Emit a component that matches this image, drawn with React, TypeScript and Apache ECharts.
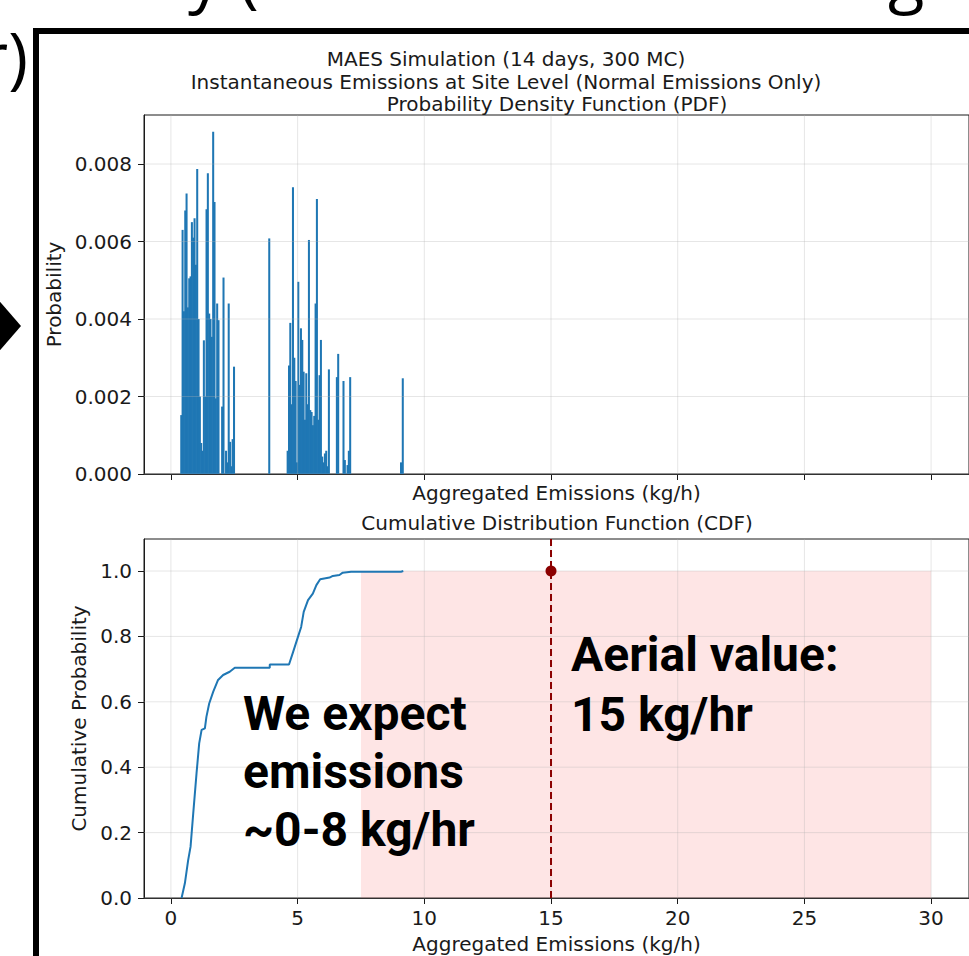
import React, { useEffect, useRef } from 'react';
import * as echarts from 'echarts';

// ---------- data ----------
const X_TICKS = [0, 5, 10, 15, 20, 25, 30];
const PDF_Y_TICKS = [0, 0.002, 0.004, 0.006, 0.008];
const CDF_Y_TICKS = [0, 0.2, 0.4, 0.6, 0.8, 1.0];
const X_MIN = -1.063;
const X_MAX = 31.496;
const PDF_Y_MAX = 0.009265;
const CDF_Y_MAX = 1.098;
const BIN_WIDTH = 0.0525;

const PDF_X = [
  0.407, 0.46, 0.512, 0.565, 0.617, 0.67, 0.722, 0.775, 0.827, 0.88, 0.932, 0.985, 1.037, 1.09,
  1.142, 1.195, 1.247, 1.3, 1.352, 1.405, 1.457, 1.51, 1.562, 1.615, 1.667, 1.72, 1.772, 1.825,
  1.877, 2.02, 2.075, 2.175, 2.225, 2.28, 2.335, 2.385, 2.435, 2.49,
  3.88,
  4.606, 4.659, 4.711, 4.764, 4.816, 4.869, 4.921, 4.974, 5.026, 5.079, 5.131, 5.184, 5.236,
  5.289, 5.341, 5.394, 5.446, 5.499, 5.551, 5.604, 5.656, 5.709, 5.761, 5.814, 5.866, 5.919,
  5.971, 6.024, 6.076, 6.129, 6.181, 6.234, 6.549, 6.601, 6.81, 6.864, 6.969, 7.021, 7.074,
  9.08, 9.15,
];
const PDF_P = [
  0.00152, 0.0063, 0.0042, 0.0068, 0.00724, 0.0043, 0.00505, 0.0051, 0.0065, 0.0061, 0.0066,
  0.0054, 0.00787, 0.004, 0.002, 0.0008, 0.0006, 0.00345, 0.002, 0.00683, 0.00776, 0.00414,
  0.004, 0.00354, 0.00883, 0.00702, 0.00195, 0.0044, 0.00397, 0.00174, 0.00507, 0.0006, 0.0003,
  0.0044, 0.00083, 0.0002, 0.0009, 0.00277,
  0.00608,
  0.0006, 0.0028, 0.0039, 0.0018, 0.0074, 0.003, 0.0024, 0.0003, 0.00496, 0.0023, 0.00376,
  0.00346, 0.00264, 0.0014, 0.0026, 0.0018, 0.00604, 0.00165, 0.0016, 0.00126, 0.0015, 0.0044,
  0.0071, 0.0014, 0.00255, 0.00346, 0.00045, 0.0003, 0.00053, 0.0006, 0.0002, 0.0027, 0.0025,
  0.0031, 0.0024, 0.00036, 0.00023, 0.0006, 0.0025,
  0.0003, 0.00247,
];

const CDF_X = [
  0.42, 0.55, 0.68, 0.775, 0.88, 1.01, 1.115, 1.21, 1.34, 1.4, 1.51, 1.67, 1.86, 2.06, 2.32, 2.52,
  3.9, 3.9, 4.66, 4.82, 5.01, 5.14, 5.24, 5.41, 5.6, 5.74, 5.89, 6.26, 6.39, 6.65, 6.78, 7.11,
  9.08, 9.17,
];
const CDF_P = [
  0, 0.045, 0.116, 0.157, 0.259, 0.381, 0.473, 0.514, 0.519, 0.554, 0.595, 0.631, 0.667, 0.682,
  0.692, 0.704, 0.704, 0.714, 0.714, 0.752, 0.798, 0.829, 0.875, 0.911, 0.931, 0.957, 0.975, 0.98,
  0.985, 0.988, 0.995, 0.998, 0.998, 1.0,
];

const SHADE_X = [7.5, 30];
const SHADE_TOP = 1.0;
const AERIAL_VALUE = 15;
const AERIAL_P = 1.0;

// ---------- styles ----------
const BLUE = '#1f77b4';
const DARK_RED = '#8b0000';
const GRID_COLOR = 'rgba(176,176,176,0.32)';
const INK = '#1a1a1a';
const MPL_FONT = 'DejaVu Sans';

const gridLineItem = (params: any, api: any) => {
  const v = api.value(0);
  const kind = api.value(1);
  const cs = params.coordSys;
  if (kind === 0) {
    const px = api.coord([v, 0])[0];
    return {
      type: 'line',
      shape: { x1: px, y1: cs.y, x2: px, y2: cs.y + cs.height },
      style: { stroke: GRID_COLOR, lineWidth: 1 },
      silent: true,
    };
  }
  const py = api.coord([0, v])[1];
  return {
    type: 'line',
    shape: { x1: cs.x, y1: py, x2: cs.x + cs.width, y2: py },
    style: { stroke: GRID_COLOR, lineWidth: 1 },
    silent: true,
  };
};

const xAxisBase = (gridIndex: number, showLabels: boolean, nameGap: number) => ({
  type: 'value',
  gridIndex,
  min: X_MIN,
  max: X_MAX,
  axisLine: { show: true, onZero: false, lineStyle: { color: INK, width: 1 } },
  axisTick: {
    show: true,
    customValues: X_TICKS,
    length: 6,
    lineStyle: { color: INK, width: 1 },
  },
  axisLabel: {
    show: showLabels,
    customValues: X_TICKS,
    formatter: (v: number) => String(v),
    fontFamily: MPL_FONT,
    fontSize: 20,
    color: INK,
    margin: 10,
  },
  splitLine: { show: false },
  name: 'Aggregated Emissions (kg/h)',
  nameLocation: 'middle',
  nameGap,
  nameTextStyle: { fontFamily: MPL_FONT, fontSize: 20, color: INK },
});

const yAxisBase = (
  gridIndex: number,
  max: number,
  ticks: number[],
  digits: number,
  name: string,
  nameGap: number
) => ({
  type: 'value',
  gridIndex,
  min: 0,
  max,
  axisLine: { show: true, onZero: false, lineStyle: { color: INK } },
  axisTick: { show: true, customValues: ticks, length: 6, lineStyle: { color: INK } },
  axisLabel: {
    customValues: ticks,
    formatter: (v: number) => v.toFixed(digits),
    fontFamily: MPL_FONT,
    fontSize: 20,
    color: INK,
    margin: 12,
  },
  splitLine: { show: false },
  name,
  nameLocation: 'middle',
  nameGap,
  nameTextStyle: { fontFamily: MPL_FONT, fontSize: 20, color: INK },
});

export default function App() {
  const ref = useRef<HTMLDivElement>(null);

  useEffect(() => {
    if (!ref.current) return;
    const chart = echarts.init(ref.current, undefined, { renderer: 'svg' });

    const textEl = (text: string, x: number, y: number, extra: any = {}) => ({
      type: 'text',
      x,
      y,
      z: 100,
      silent: true,
      style: {
        text,
        fontFamily: MPL_FONT,
        fontSize: 20,
        lineHeight: 20,
        fill: INK,
        align: 'center',
        verticalAlign: 'middle',
        ...extra,
      },
    });

    const option: any = {
      animation: false,
      backgroundColor: '#ffffff',
      grid: [
        { left: 144, top: 115, width: 827, height: 359, show: true, borderColor: INK, borderWidth: 1, backgroundColor: 'transparent' },
        { left: 144, top: 539, width: 827, height: 359, show: true, borderColor: INK, borderWidth: 1, backgroundColor: 'transparent' },
      ],
      xAxis: [xAxisBase(0, false, 9), xAxisBase(1, true, 36)],
      yAxis: [
        yAxisBase(0, PDF_Y_MAX, PDF_Y_TICKS, 3, 'Probability', 76),
        yAxisBase(1, CDF_Y_MAX, CDF_Y_TICKS, 1, 'Cumulative Probability', 52),
      ],
      series: [
        {
          type: 'custom',
          name: 'PDF',
          xAxisIndex: 0,
          yAxisIndex: 0,
          z: 2,
          data: PDF_X.map((x, i) => [x, PDF_P[i]]),
          renderItem: (params: any, api: any) => {
            const x = api.value(0);
            const h = api.value(1);
            const p0 = api.coord([x - BIN_WIDTH / 2, 0]);
            const p1 = api.coord([x + BIN_WIDTH / 2, h]);
            return {
              type: 'rect',
              shape: {
                x: p0[0] - 0.35,
                y: p1[1],
                width: p1[0] - p0[0] + 0.7,
                height: p0[1] - p1[1],
              },
              style: { fill: BLUE },
            };
          },
        },
        {
          type: 'custom',
          name: 'grid-top',
          xAxisIndex: 0,
          yAxisIndex: 0,
          z: 3,
          silent: true,
          data: [...X_TICKS.map((v) => [v, 0]), ...PDF_Y_TICKS.map((v) => [v, 1])],
          renderItem: gridLineItem,
        },
        {
          type: 'custom',
          name: 'shade',
          xAxisIndex: 1,
          yAxisIndex: 1,
          z: 1,
          silent: true,
          data: [[SHADE_X[0], SHADE_X[1], SHADE_TOP]],
          renderItem: (params: any, api: any) => {
            const p0 = api.coord([api.value(0), 0]);
            const p1 = api.coord([api.value(1), api.value(2)]);
            return {
              type: 'rect',
              shape: { x: p0[0], y: p1[1], width: p1[0] - p0[0], height: p0[1] - p1[1] },
              style: { fill: 'rgba(245,80,80,0.15)' },
            };
          },
        },
        {
          type: 'custom',
          name: 'grid-bottom',
          xAxisIndex: 1,
          yAxisIndex: 1,
          z: 2,
          silent: true,
          data: [...X_TICKS.map((v) => [v, 0]), ...CDF_Y_TICKS.map((v) => [v, 1])],
          renderItem: gridLineItem,
        },
        {
          type: 'line',
          name: 'CDF',
          xAxisIndex: 1,
          yAxisIndex: 1,
          z: 4,
          data: CDF_X.map((x, i) => [x, CDF_P[i]]),
          showSymbol: false,
          symbol: 'none',
          lineStyle: { color: BLUE, width: 2 },
        },
        {
          type: 'line',
          name: 'Aerial',
          xAxisIndex: 1,
          yAxisIndex: 1,
          z: 5,
          data: [
            [AERIAL_VALUE, 0],
            [AERIAL_VALUE, CDF_Y_MAX],
          ],
          symbol: 'none',
          lineStyle: { color: DARK_RED, width: 2, type: [7, 4] },
        },
        {
          type: 'scatter',
          name: 'Aerial point',
          xAxisIndex: 1,
          yAxisIndex: 1,
          z: 6,
          data: [[AERIAL_VALUE, AERIAL_P]],
          symbolSize: 11,
          itemStyle: { color: DARK_RED, opacity: 1 },
        },
      ],
      graphic: [
        // slide frame
        {
          type: 'rect',
          z: 100,
          silent: true,
          shape: { x: 36, y: 31, width: 1000, height: 1000 },
          style: { fill: 'transparent', stroke: '#000', lineWidth: 6 },
        },
        // slide fragments outside the frame
        {
          type: 'polygon',
          z: 100,
          silent: true,
          shape: { points: [[-4, 297], [21, 326], [-4, 355]] },
          style: { fill: '#000' },
        },
        textEl('r)', 28, 55, { fontFamily: 'Open Sans', fontSize: 67, lineHeight: 67, fill: '#000', align: 'right' }),
        textEl('y (', 188, -26, { fontFamily: 'Open Sans', fontSize: 67, lineHeight: 67, fill: '#000', align: 'left' }),
        textEl('g', 888, -26, { fontFamily: 'Open Sans', fontSize: 67, lineHeight: 67, fill: '#000', align: 'left' }),
        // titles
        textEl('MAES Simulation (14 days, 300 MC)', 506, 58.5),
        textEl('Instantaneous Emissions at Site Level (Normal Emissions Only)', 506, 81.5),
        textEl('Probability Density Function (PDF)', 557, 104),
        textEl('Cumulative Distribution Function (CDF)', 557, 523),
        // annotations
        {
          type: 'text',
          x: 243,
          y: 684,
          z: 100,
          silent: true,
          style: {
            text: 'We expect\nemissions\n~0-8 kg/hr',
            fontFamily: 'Roboto',
            fontWeight: 'bold',
            fontSize: 48,
            lineHeight: 58,
            fill: '#000',
            align: 'left',
            verticalAlign: 'top',
          },
        },
        {
          type: 'text',
          x: 571,
          y: 624,
          z: 100,
          silent: true,
          style: {
            text: 'Aerial value:\n15 kg/hr',
            fontFamily: 'Roboto',
            fontWeight: 'bold',
            fontSize: 48,
            lineHeight: 60,
            fill: '#000',
            align: 'left',
            verticalAlign: 'top',
          },
        },
      ],
    };

    chart.setOption(option);
    return () => chart.dispose();
  }, []);

  return (
    <div
      ref={ref}
      style={{ position: 'fixed', left: 0, top: 0, width: 969, height: 956, background: '#fff' }}
    />
  );
}
